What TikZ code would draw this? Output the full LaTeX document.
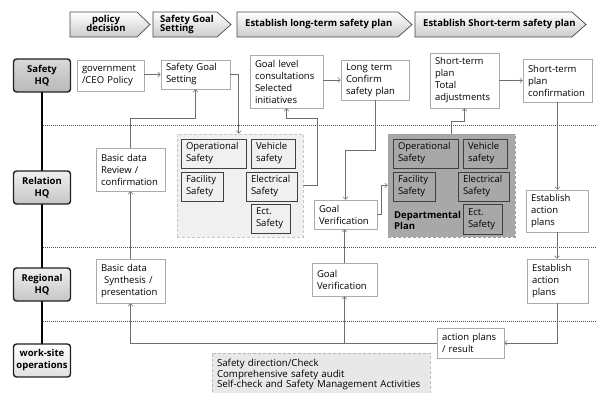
\documentclass[tikz,border=0pt]{standalone}
\usepackage{fontspec}
\setmainfont{Open Sans}
\usetikzlibrary{arrows.meta}
\newcommand\nf{\fontsize{9.5}{12}\selectfont}
\newcommand\hf{\fontsize{9.5}{10.5}\selectfont\bfseries}
\definecolor{conncol}{HTML}{6E6E6E}
\definecolor{boxline}{HTML}{ABABAB}
\definecolor{lightpanel}{HTML}{F0F0F0}
\definecolor{darkpanel}{HTML}{A8A8A8}
\definecolor{innerline}{HTML}{404040}
\newcommand{\BX}[7]{%
  \pgfmathsetmacro\bxw{#5-#3}\pgfmathsetmacro\bxh{#6-#4}\pgfmathsetmacro\bxtw{#5-#3-10}%
  \node[#1, minimum width=\bxw pt, minimum height=\bxh pt, text width=\bxtw pt] (#2) at ({(#3+#5)/2},{(#4+#6)/2}) {#7};}
\newcommand{\CHEV}[7]{% name, x1, xb, xt, text x, anchor, text
  \shade[top color=white, bottom color=gray!40, draw=gray!55!black, line width=0.7pt]
    (#2,12) -- (#3,12) -- (#4,24.5) -- (#3,37) -- (#2,37) -- cycle;
  \node[hdr, anchor=#6] (#1) at (#5,24.5) {#7};}
\tikzset{
  box/.style={draw=boxline, fill=white, line width=0.6pt, inner xsep=5pt, inner ysep=1pt, align=left, font=\nf},
  inbox/.style={draw=innerline, line width=0.9pt, inner xsep=5pt, inner ysep=1pt, align=left, font=\nf},
  lpan/.style={draw=gray!45, fill=lightpanel, line width=0.6pt, densely dashed, inner sep=0pt},
  dpan/.style={draw=gray!75, fill=darkpanel, line width=0.6pt, densely dashed, inner sep=0pt},
  lane/.style={draw=gray!25!black, line width=1.4pt, rounded corners=3pt, top color=gray!12, bottom color=gray!45,
    minimum width=57pt, minimum height=33pt, align=center, font=\fontsize{9.5}{12}\selectfont\bfseries, inner sep=1pt},
  hdr/.style={font=\hf, inner sep=0pt},
  conn/.style={draw=conncol, line width=0.6pt, -{Straight Barb[length=2.5pt,width=5pt]}},
  dots/.style={draw=gray!60!black, line width=0.7pt, dash pattern=on 0.8pt off 1.2pt},
}
\begin{document}
\begin{tikzpicture}[x=1pt, y=-1pt]
\useasboundingbox (0,0) rectangle (597,393);
% header chevrons
\CHEV{h1}{70}{137}{150}{106}{center}{\begin{tabular}{@{}c@{}}policy\\[-1.5pt]decision\end{tabular}}
\CHEV{h2}{153}{217}{231}{160}{west}{\begin{tabular}{@{}l@{}}Safety Goal\\[-1.5pt]Setting\end{tabular}}
\CHEV{h3}{237}{398}{412}{245}{west}{Establish long-term safety plan}
\CHEV{h4}{415}{572}{586}{423}{west}{Establish Short-term safety plan}
% swimlane spine
\draw[line width=1.6pt] (42,75) -- (42,360);
% dotted separators
\draw[dots] (43,125) -- (597,125);
\draw[dots] (43,247) -- (597,247);
\draw[dots] (43,321) -- (597,321);
% lane labels
\node[lane, top color=gray!30, bottom color=gray!55] (l1) at (42,75.5) {Safety\\HQ};
\node[lane] (l2) at (42,187.5) {Relation\\HQ};
\node[lane] (l3) at (42,284.5) {Regional\\HQ};
\node[lane, top color=white, bottom color=gray!25] (l4) at (42,360.5) {work-site\\operations};
% Safety HQ row
\BX{box}{gov}{77}{60}{144}{91}{government\\/CEO Policy}
\BX{box}{sgs}{161}{60}{230}{89}{Safety Goal\\Setting}
\BX{box}{gl}{250}{55}{323}{108}{Goal level\\consultations\\Selected\\initiatives}
\BX{box}{lt}{341}{60}{409}{100}{Long term\\Confirm\\safety plan}
\BX{box}{sta}{430}{53}{499}{108}{Short-term\\plan\\Total\\adjustments}
\BX{box}{stc}{523}{59}{592}{102}{Short-term\\plan\\confirmation}
% Relation HQ row
\BX{box}{brv}{96}{148}{165}{191}{Basic data\\Review /\\confirmation}
\BX{lpan}{lp}{177}{134}{303}{237}{}
\BX{inbox, fill=lightpanel}{lp1}{181}{139}{246}{168}{Operational\\Safety}
\BX{inbox, fill=lightpanel}{lp2}{251}{139}{295}{168}{Vehicle\\safety}
\BX{inbox, fill=lightpanel}{lp3}{181}{172}{223}{201}{Facility\\Safety}
\BX{inbox, fill=lightpanel}{lp4}{246}{172}{297}{201}{Electrical\\Safety}
\BX{inbox, fill=lightpanel}{lp5}{251}{204}{290}{233}{Ect.\\Safety}
\BX{box}{gv}{314}{200}{377}{229}{Goal\\Verification}
\BX{dpan}{dp}{388}{134}{515}{237}{}
\BX{inbox, fill=darkpanel}{dp1}{393}{139}{458}{168}{Operational\\Safety}
\BX{inbox, fill=darkpanel}{dp2}{463}{139}{507}{168}{Vehicle\\safety}
\BX{inbox, fill=darkpanel}{dp3}{393}{172}{435}{201}{Facility\\Safety}
\BX{inbox, fill=darkpanel}{dp4}{458}{172}{509}{201}{Electrical\\Safety}
\BX{inbox, fill=darkpanel}{dp5}{463}{204}{502}{234}{Ect.\\Safety}
\node[anchor=west, align=left, font=\fontsize{9.5}{11.5}\selectfont\bfseries, inner sep=0pt] (dpt) at (394,220.5) {Departmental\\Plan};
\BX{box}{eap1}{526}{190}{588}{232}{Establish\\action\\plans}
% Regional HQ row
\BX{box}{bsyn}{96}{259}{165}{303}{Basic data\\\ Synthesis /\\presentation}
\BX{box}{gvr}{312}{263}{377}{296}{Goal\\Verification}
\BX{box}{eap2}{527}{259}{588}{303}{Establish\\action\\plans}
% work-site row
\BX{box}{ap}{437}{328}{504}{358}{action plans\\/ result}
\BX{box, fill=gray!18, draw=gray!55, densely dashed, inner ysep=2pt, font=\fontsize{9.7}{10.2}\selectfont}{act}{212}{353}{430}{396}{Safety direction/Check\\Comprehensive safety audit\\Self-check and Safety Management Activities}
% connectors
\draw[conn] (gov.east |- sgs.west) -- (sgs.west);
\draw[conn] (sgs.east) -| ([xshift=62pt]lp.north west);
\draw[conn] (brv.north) |- ([yshift=-29pt]sgs.south) -- (sgs.south);
\draw[conn] (bsyn.north) -- (brv.south);
\draw[conn] (ap.west) -| (bsyn.south);
\draw[conn] (gvr.south |- ap.west) -- (gvr.south);
\draw[conn] (gvr.north) -- (gvr.north |- gv.south);
\draw[conn] (lt.south) -- ([yshift=-50pt]lt.south) -| (gv.north);
\draw[conn] (gv.east) -| ([xshift=-6pt]dp.west) -- (dp.west);
\draw[conn] (lp.east) -- ++(14,0) |- ([yshift=-10pt]gl.south) -- (gl.south);
\draw[conn] (lt.west -| gl.east) -- (lt.west);
\draw[conn] (sta.east) -- (stc.west);
\draw[conn] (dp.north) -- ([yshift=12pt]dp.north) -| (sta.south);
\draw[conn] (stc.south) -- (stc.south |- eap1.north);
\draw[conn] (eap1.south) -- (eap1.south |- eap2.north);
\draw[conn] (eap2.south) |- (ap.east);
\end{tikzpicture}
\end{document}
